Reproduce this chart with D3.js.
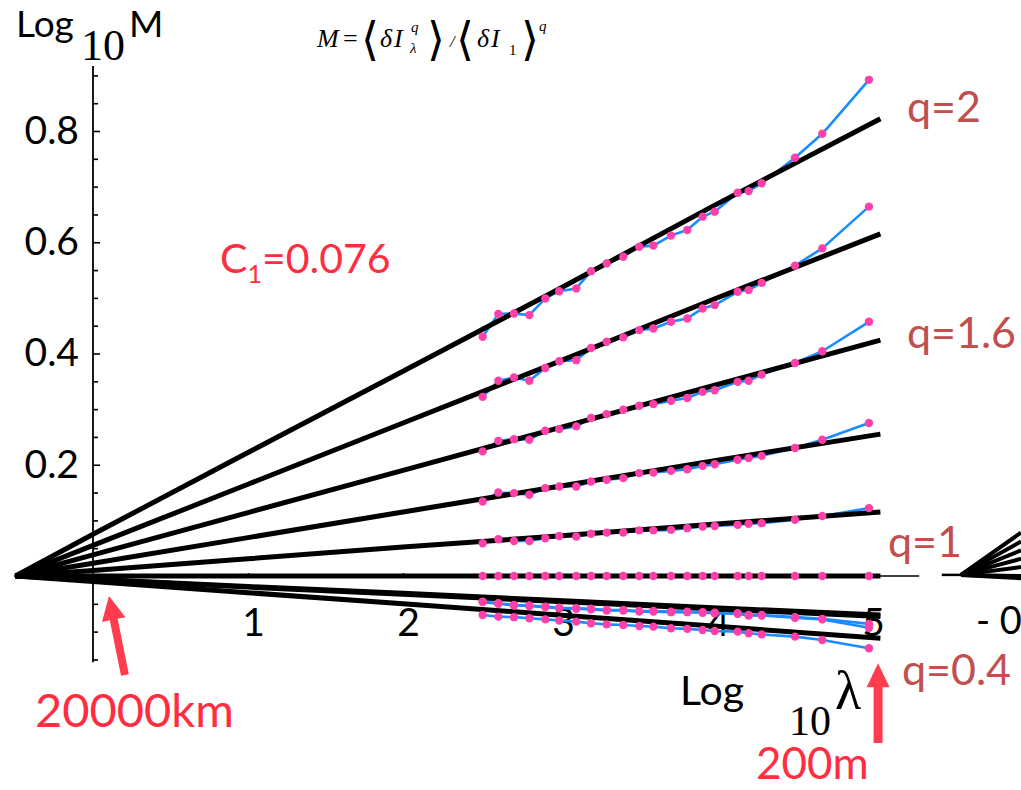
<!DOCTYPE html>
<html><head><meta charset="utf-8">
<script src="https://cdn.jsdelivr.net/npm/d3@7"></script>
<style>body{margin:0;background:#fff;overflow:hidden} svg{display:block}</style>
</head><body>
<svg id="c" width="1021" height="790"></svg>
<script>
// ---------- data ----------
const logLambda = [2.514, 2.615, 2.716, 2.815, 2.918, 3.008, 3.118, 3.213, 3.314, 3.421, 3.524, 3.615, 3.729, 3.834, 3.933, 4.011, 4.159, 4.230, 4.314, 4.529, 4.705, 5.006];
const qValues = [2, 1.8, 1.6, 1.4, 1.2, 1, 0.8, 0.6, 0.4];
const logM_q20 = [0.430, 0.471, 0.472, 0.469, 0.499, 0.512, 0.517, 0.548, 0.562, 0.574, 0.592, 0.594, 0.612, 0.622, 0.646, 0.655, 0.689, 0.692, 0.706, 0.752, 0.795, 0.892];
const logM_q18 = [0.322, 0.351, 0.357, 0.351, 0.374, 0.386, 0.388, 0.410, 0.421, 0.429, 0.442, 0.445, 0.457, 0.463, 0.481, 0.487, 0.511, 0.514, 0.527, 0.558, 0.589, 0.664];
const logM_q16 = [0.224, 0.243, 0.246, 0.245, 0.261, 0.264, 0.269, 0.284, 0.291, 0.299, 0.306, 0.309, 0.315, 0.320, 0.331, 0.334, 0.349, 0.351, 0.362, 0.383, 0.404, 0.457];
const logM_q14 = [0.134, 0.150, 0.149, 0.146, 0.158, 0.161, 0.161, 0.170, 0.173, 0.176, 0.185, 0.186, 0.189, 0.192, 0.198, 0.201, 0.209, 0.212, 0.216, 0.230, 0.245, 0.275];
const logM_q12 = [0.059, 0.066, 0.063, 0.063, 0.068, 0.072, 0.071, 0.076, 0.078, 0.078, 0.082, 0.082, 0.083, 0.086, 0.089, 0.090, 0.092, 0.094, 0.095, 0.101, 0.108, 0.122];
const logM_q10 = [0, 0, 0, 0, 0, 0, 0, 0, 0, 0, 0, 0, 0, 0, 0, 0, 0, 0, 0, 0, 0, 0];
const logM_q08 = [-0.046, -0.049, -0.052, -0.053, -0.055, -0.057, -0.058, -0.059, -0.061, -0.061, -0.063, -0.063, -0.064, -0.064, -0.065, -0.066, -0.067, -0.070, -0.070, -0.074, -0.077, -0.086];
const logM_q06 = [-0.047, -0.050, -0.053, -0.054, -0.056, -0.058, -0.059, -0.060, -0.062, -0.062, -0.064, -0.064, -0.065, -0.065, -0.066, -0.067, -0.068, -0.071, -0.071, -0.075, -0.078, -0.093];
const logM_q04 = [-0.070, -0.073, -0.074, -0.076, -0.078, -0.080, -0.082, -0.085, -0.087, -0.088, -0.090, -0.091, -0.094, -0.095, -0.097, -0.099, -0.100, -0.103, -0.105, -0.109, -0.115, -0.130];

// theoretical fit curves
const fitX = [-0.5, 0, 1, 2, 3, 4, 5.08];
const fit_q20 = [0, 0.075, 0.222, 0.368, 0.515, 0.665, 0.822];
const fit_q18 = [0, 0.055, 0.165, 0.275, 0.385, 0.497, 0.615];
const fit_q16 = [0, 0.038, 0.114, 0.190, 0.266, 0.342, 0.424];
const fit_q14 = [0, 0.023, 0.069, 0.115, 0.161, 0.207, 0.255];
const fit_q12 = [0, 0.010, 0.031, 0.052, 0.072, 0.093, 0.115];
const fit_q10 = [0, 0, 0, 0, 0, 0, 0];
const fit_q08 = [0, -0.006, -0.019, -0.031, -0.044, -0.057, -0.070];
const fit_q06 = [0, -0.0065, -0.020, -0.033, -0.046, -0.059, -0.073];
const fit_q04 = [0, -0.010, -0.030, -0.050, -0.070, -0.090, -0.112];

// neighbouring (cropped) panel fan: end values at right edge
const fanEnds = [0.078, 0.062, 0.046, 0.031, 0.016, 0, -0.004];

const xTickValues = [1, 2, 3, 4, 5];
const xTickLabels = ["1", "2", "3", "4", "5"];
const yTickValues = [0.2, 0.4, 0.6, 0.8];
const yTickLabels = ["0.2", "0.4", "0.6", "0.8"];
const qLabels = ["q=2", "q=1.6", "q=1", "q=0.4"];

// ---------- layout ----------
const SANS = "Lato, 'Open Sans', sans-serif";
const SERIF = "'Liberation Serif', 'DejaVu Serif', serif";
const svg = d3.select("#c");
svg.append("rect").attr("width", 1021).attr("height", 790).attr("fill", "#fff");

const x = d3.scaleLinear().domain([0, 5]).range([93, 868]);
const y = d3.scaleLinear().domain([0, 0.8]).range([576, 131]);

const dataSeries = [logM_q20, logM_q18, logM_q16, logM_q14, logM_q12, logM_q10, logM_q08, logM_q06, logM_q04];
const fitSeries = [fit_q20, fit_q18, fit_q16, fit_q14, fit_q12, fit_q10, fit_q08, fit_q06, fit_q04];

// x axis line
svg.append("line").attr("x1", x(-0.51)).attr("x2", x(5.33)).attr("y1", y(0)).attr("y2", y(0))
  .attr("stroke", "#000").attr("stroke-width", 1.6);
const xAxis = d3.axisBottom(x).tickValues(xTickValues).tickFormat((d, i) => xTickLabels[i])
  .tickSizeInner(-3).tickSizeOuter(0).tickPadding(32);
const gx = svg.append("g").attr("transform", `translate(0,${y(0)})`).call(xAxis);
gx.select(".domain").remove();
gx.selectAll("line").attr("stroke", "#000").attr("stroke-width", 1.5);
gx.selectAll("text").attr("font-family", SANS).attr("font-size", 39).attr("fill", "#000").attr("dx", 5);

// y axis
svg.append("line").attr("x1", x(0)).attr("x2", x(0)).attr("y1", y(0.917)).attr("y2", y(-0.155))
  .attr("stroke", "#000").attr("stroke-width", 1.8);
const minorTicks = d3.range(-3, 19).map(k => k * 0.05).filter(v => Math.abs(v % 0.2) > 1e-6 && Math.abs(Math.abs(v % 0.2) - 0.2) > 1e-6);
const yMinor = d3.axisLeft(y).tickValues(minorTicks).tickFormat("").tickSizeInner(-5).tickSizeOuter(0);
const gyMinor = svg.append("g").attr("transform", `translate(${x(0)},0)`).call(yMinor);
gyMinor.select(".domain").remove();
gyMinor.selectAll("line").attr("stroke", "#000").attr("stroke-width", 1.6);
const yMajor = d3.axisLeft(y).tickValues([0, ...yTickValues]).tickFormat(d => {
  const i = yTickValues.indexOf(d); return i >= 0 ? yTickLabels[i] : "";
}).tickSizeInner(-7).tickSizeOuter(0).tickPadding(14);
const gyMajor = svg.append("g").attr("transform", `translate(${x(0)},0)`).call(yMajor);
gyMajor.select(".domain").remove();
gyMajor.selectAll("line").attr("stroke", "#000").attr("stroke-width", 1.6);
gyMajor.selectAll("text").attr("font-family", SANS).attr("font-size", 39).attr("fill", "#000");

// data lines (blue)
const dataLine = d3.line().x((d, i) => x(logLambda[i])).y(d => y(d));
svg.append("g").selectAll("path").data(dataSeries).join("path")
  .attr("d", d => dataLine(d)).attr("fill", "none").attr("stroke", "#1A8CFF").attr("stroke-width", 2.6)
  .attr("stroke-linejoin", "round");

// fit lines (black)
const fitLine = d3.line().x((d, i) => x(fitX[i])).y(d => y(d));
svg.append("g").selectAll("path").data(fitSeries).join("path")
  .attr("d", d => fitLine(d)).attr("fill", "none").attr("stroke", "#000").attr("stroke-width", 5)
  .attr("stroke-linejoin", "round");

// data points (pink)
const pts = [];
dataSeries.forEach(s => s.forEach((v, i) => pts.push([logLambda[i], v])));
svg.append("g").selectAll("circle").data(pts).join("circle")
  .attr("cx", d => x(d[0])).attr("cy", d => y(d[1])).attr("r", 4.2).attr("fill", "#FF40A8");

// neighbouring panel (cropped at right)
const x2 = d3.scaleLinear().domain([0, 1]).range([961, 1021]);
svg.append("line").attr("x1", x2(-0.32)).attr("x2", x2(0)).attr("y1", y(0.002)).attr("y2", y(0.002))
  .attr("stroke", "#000").attr("stroke-width", 2.5);
svg.append("g").selectAll("line").data(fanEnds).join("line")
  .attr("x1", x2(0)).attr("y1", y(0.002)).attr("x2", x2(1)).attr("y2", d => y(d))
  .attr("stroke", "#000").attr("stroke-width", 4);
svg.append("text").attr("x", 976).attr("y", 634).attr("font-family", SANS).attr("font-size", 38)
  .attr("fill", "#000").text("- 0");

// q labels
const qPos = [[907, 122], [907, 348], [888, 557], [902, 685]];
svg.append("g").selectAll("text").data(qLabels).join("text")
  .attr("x", (d, i) => qPos[i][0]).attr("y", (d, i) => qPos[i][1])
  .attr("font-family", SANS).attr("font-size", 43).attr("fill", "#C0504D").text(d => d);

// axis titles
svg.append("text").attr("x", 16).attr("y", 37).attr("font-family", SANS).attr("font-size", 37).text("Log");
svg.append("text").attr("x", 81).attr("y", 60).attr("font-family", SERIF).attr("font-size", 44).text("10");
svg.append("text").attr("x", 129).attr("y", 37).attr("font-family", SANS).attr("font-size", 37).text("M");

svg.append("text").attr("x", 680).attr("y", 705).attr("font-family", SANS).attr("font-size", 41).text("Log");
svg.append("text").attr("x", 789).attr("y", 735).attr("font-family", SERIF).attr("font-size", 42).text("10");
svg.append("text").attr("x", 835).attr("y", 709).attr("font-family", SERIF).attr("font-size", 54).text("λ");

// formula
const F = svg.append("g").attr("font-family", SERIF).attr("font-style", "italic").attr("fill", "#000");
const BR = "'DejaVu Serif', serif";
F.append("text").attr("x", 317).attr("y", 47).attr("font-size", 26).text("M");
F.append("text").attr("x", 343).attr("y", 47).attr("font-size", 26).attr("font-style", "normal").text("=");
F.append("text").attr("x", 361).attr("y", 55).attr("font-size", 46).attr("font-style", "normal").attr("font-family", BR).text("⟨");
F.append("text").attr("x", 380).attr("y", 47).attr("font-size", 26).text("δ");
F.append("text").attr("x", 394).attr("y", 47).attr("font-size", 26).text("I");
F.append("text").attr("x", 411).attr("y", 32).attr("font-size", 15).text("q");
F.append("text").attr("x", 410).attr("y", 53).attr("font-size", 15).text("λ");
F.append("text").attr("x", 427).attr("y", 55).attr("font-size", 46).attr("font-style", "normal").attr("font-family", BR).text("⟩");
F.append("text").attr("x", 450).attr("y", 47).attr("font-size", 17).text("/");
F.append("text").attr("x", 456).attr("y", 55).attr("font-size", 46).attr("font-style", "normal").attr("font-family", BR).text("⟨");
F.append("text").attr("x", 477).attr("y", 47).attr("font-size", 26).text("δ");
F.append("text").attr("x", 491).attr("y", 47).attr("font-size", 26).text("I");
F.append("text").attr("x", 509).attr("y", 55).attr("font-size", 15).attr("font-style", "normal").text("1");
F.append("text").attr("x", 521).attr("y", 55).attr("font-size", 46).attr("font-style", "normal").attr("font-family", BR).text("⟩");
F.append("text").attr("x", 539).attr("y", 31).attr("font-size", 15).text("q");

// C1 annotation
const RED = "#FF2D3F";
const c1 = svg.append("text").attr("x", 220).attr("y", 273).attr("font-family", SANS).attr("font-size", 41).attr("fill", RED);
c1.append("tspan").text("C");
c1.append("tspan").attr("font-size", 25).attr("dy", 10).text("1");
c1.append("tspan").attr("dy", -10).text("=0.076");

// scale annotations with arrows
svg.append("text").attr("x", 35).attr("y", 727).attr("font-family", SANS).attr("font-size", 47).attr("fill", RED).text("20000km");
svg.append("text").attr("x", 756).attr("y", 779).attr("font-family", SANS).attr("font-size", 44).attr("fill", RED).text("200m");

function arrow(tail, tip, shaftW, headW, headL, color) {
  const [x0, y0] = tail, [x1, y1] = tip;
  const dx = x1 - x0, dy = y1 - y0, L = Math.hypot(dx, dy);
  const ux = dx / L, uy = dy / L, nx = -uy, ny = ux;
  const bx = x1 - ux * headL, by = y1 - uy * headL;
  const p = [
    [x0 + nx * shaftW / 2, y0 + ny * shaftW / 2],
    [bx + nx * shaftW / 2, by + ny * shaftW / 2],
    [bx + nx * headW / 2, by + ny * headW / 2],
    [x1, y1],
    [bx - nx * headW / 2, by - ny * headW / 2],
    [bx - nx * shaftW / 2, by - ny * shaftW / 2],
    [x0 - nx * shaftW / 2, y0 - ny * shaftW / 2]
  ];
  svg.append("path").attr("d", "M" + p.map(q => q.join(",")).join("L") + "Z").attr("fill", color);
}
const ARROW = "#FF3D4F";
arrow([x(0.206), y(-0.178)], [x(0.103), y(-0.036)], 8, 24, 24, ARROW);
arrow([x(5.065), y(-0.300)], [x(5.065), y(-0.157)], 9, 23, 24, ARROW);
</script>
</body></html>
